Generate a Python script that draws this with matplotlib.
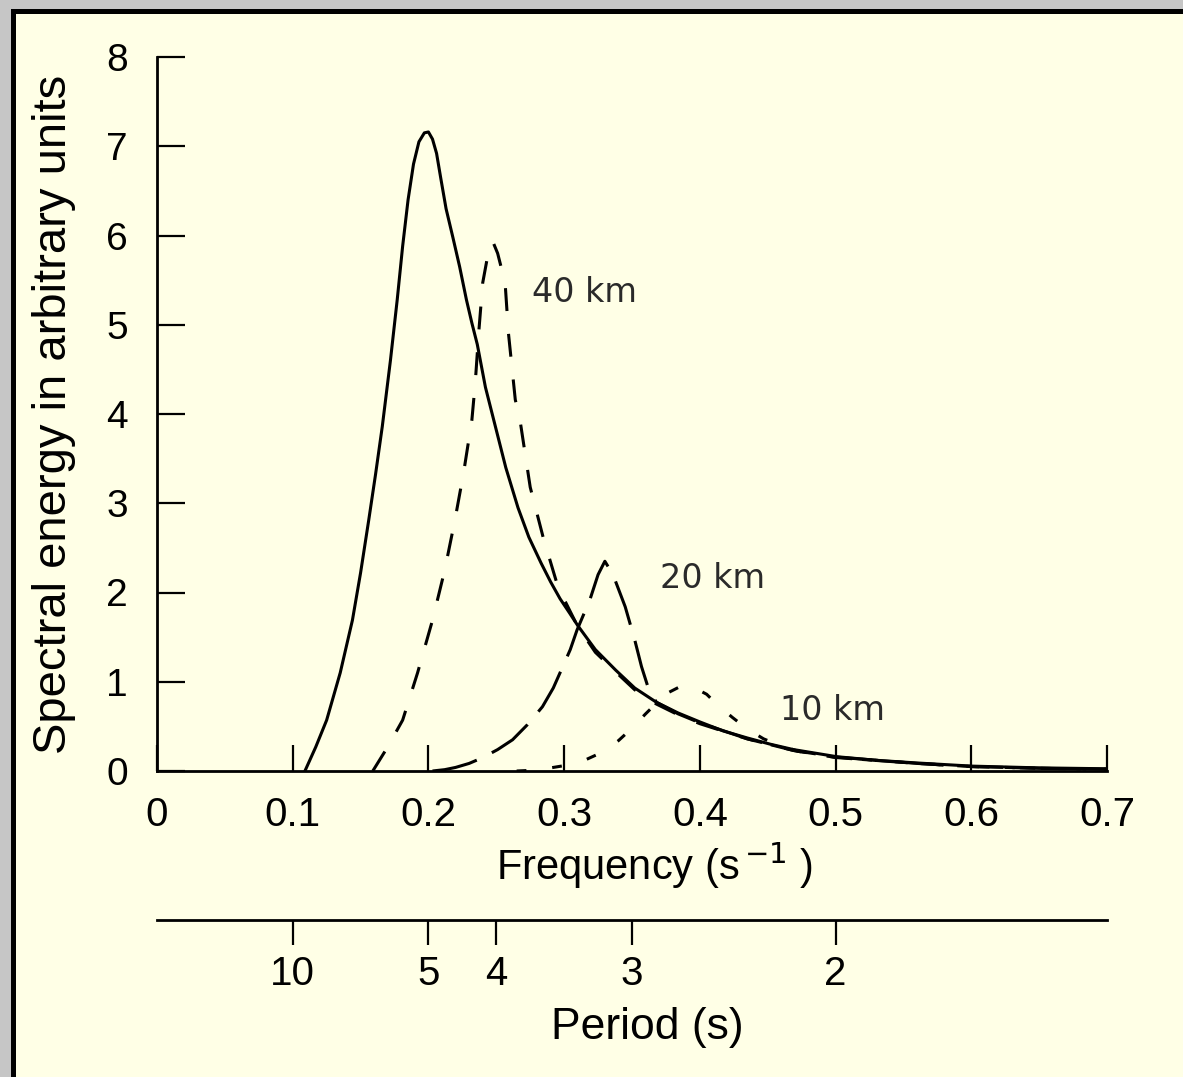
import matplotlib
matplotlib.use('Agg')
import matplotlib.pyplot as plt
from matplotlib.patches import Rectangle

plt.rcParams['font.family'] = ['Liberation Sans', 'DejaVu Sans']
plt.rcParams['mathtext.fontset'] = 'custom'
plt.rcParams['mathtext.rm'] = 'Liberation Sans'
plt.rcParams['mathtext.default'] = 'regular'

# fully developed sea (solid)
f_full = [0.109, 0.117, 0.125, 0.135, 0.144, 0.150, 0.156, 0.161, 0.166, 0.172, 0.177,
          0.181, 0.185, 0.189, 0.193, 0.197, 0.200, 0.203, 0.206, 0.209, 0.213, 0.218,
          0.223, 0.228, 0.232, 0.236, 0.242, 0.249, 0.257, 0.266, 0.274, 0.283, 0.290,
          0.297, 0.304, 0.310, 0.323, 0.338, 0.352, 0.368, 0.384, 0.400, 0.417, 0.435,
          0.452, 0.469, 0.485, 0.501, 0.53, 0.56, 0.60, 0.65, 0.70]
e_full = [0.0, 0.27, 0.57, 1.10, 1.69, 2.22, 2.81, 3.32, 3.86, 4.60, 5.28,
          5.88, 6.40, 6.80, 7.05, 7.15, 7.16, 7.08, 6.92, 6.65, 6.30, 5.98,
          5.65, 5.28, 5.02, 4.78, 4.30, 3.88, 3.40, 2.95, 2.62, 2.33, 2.12,
          1.93, 1.77, 1.63, 1.36, 1.13, 0.93, 0.77, 0.65, 0.55, 0.45, 0.37,
          0.30, 0.24, 0.20, 0.16, 0.12, 0.09, 0.055, 0.035, 0.025]

# 40 km fetch
f_40 = [0.159, 0.170, 0.181, 0.192, 0.203, 0.212, 0.2195, 0.226, 0.232, 0.2345, 0.237,
        0.240, 0.244, 0.2475, 0.251, 0.2565, 0.259, 0.264, 0.2675, 0.275, 0.2845, 0.2955,
        0.310, 0.323, 0.338, 0.352, 0.368, 0.384, 0.400, 0.435, 0.469, 0.501, 0.56,
        0.60, 0.65, 0.70]
e_40 = [0.0, 0.27, 0.57, 1.10, 1.69, 2.25, 2.81, 3.35, 3.93, 4.35, 4.90,
        5.47, 5.80, 5.93, 5.80, 5.47, 4.90, 4.16, 3.93, 3.18, 2.62, 2.06,
        1.62, 1.33, 1.11, 0.91, 0.75, 0.63, 0.53, 0.36, 0.23, 0.15, 0.085,
        0.05, 0.03, 0.02]

# 20 km fetch
f_20 = [0.203, 0.212, 0.220, 0.230, 0.240, 0.251, 0.262, 0.273, 0.284, 0.292, 0.299,
        0.3045, 0.3095, 0.319, 0.325, 0.330, 0.336, 0.345, 0.352, 0.357, 0.362, 0.368,
        0.384, 0.400, 0.435, 0.469, 0.501, 0.56, 0.60, 0.65, 0.70]
e_20 = [0.0, 0.015, 0.04, 0.085, 0.15, 0.24, 0.35, 0.52, 0.72, 0.93, 1.17,
        1.36, 1.58, 1.92, 2.20, 2.35, 2.20, 1.84, 1.47, 1.17, 0.93, 0.77,
        0.64, 0.54, 0.36, 0.23, 0.155, 0.085, 0.05, 0.03, 0.02]

# 10 km fetch
f_10 = [0.265, 0.28, 0.30, 0.315, 0.328, 0.340, 0.350, 0.360, 0.368, 0.377, 0.386,
        0.395, 0.405, 0.413, 0.424, 0.435, 0.447, 0.46, 0.475, 0.501, 0.56, 0.60,
        0.65, 0.70]
e_10 = [0.0, 0.01, 0.06, 0.12, 0.21, 0.34, 0.48, 0.64, 0.76, 0.88, 0.95,
        0.94, 0.86, 0.74, 0.60, 0.47, 0.36, 0.28, 0.21, 0.15, 0.085, 0.05,
        0.03, 0.02]

freq_ticks = [0, 0.1, 0.2, 0.3, 0.4, 0.5, 0.6, 0.7]
freq_labels = ['0', '0.1', '0.2', '0.3', '0.4', '0.5', '0.6', '0.7']
energy_ticks = [0, 1, 2, 3, 4, 5, 6, 7, 8]
period_pos = [0.1, 0.2, 0.25, 0.35, 0.5]
period_labels = ['10', '5', '4', '3', '2']

W, H = 1183, 1077
fig = plt.figure(figsize=(W / 100, H / 100), dpi=100)
fig.patch.set_facecolor('#c6c6c6')
frame = Rectangle((12.5 / W, -0.05), 1.2, (H - 10.5) / H + 0.05, transform=fig.transFigure,
                  facecolor='#FFFFE6', edgecolor='black', linewidth=3.6, zorder=-5)
fig.patches.append(frame)

ax = fig.add_axes([157 / W, 1 - 771 / H, 950 / W, 714 / H])
ax.set_facecolor('none')
lw = 2.2
ax.plot(f_full, e_full, color='black', lw=lw)
ax.plot(f_40, e_40, color='black', lw=lw, dashes=(7.5, 7.5))
ax.plot(f_20, e_20, color='black', lw=lw, dashes=(15, 5.5))
ax.plot(f_10, e_10, color='black', lw=lw, dashes=(3.2, 8.5))

ax.set_xlim(0, 0.7)
ax.set_ylim(0, 8)
for s in ['top', 'right']:
    ax.spines[s].set_visible(False)
for s in ['left', 'bottom']:
    ax.spines[s].set_linewidth(2.0)
ax.set_xticks(freq_ticks)
ax.set_xticklabels(freq_labels)
ax.set_yticks(energy_ticks)
ax.tick_params(axis='x', direction='in', length=19, width=1.6, pad=18, labelsize=29)
ax.tick_params(axis='y', direction='in', length=20, width=1.6, pad=21, labelsize=28)

ax.set_ylabel('Spectral energy in arbitrary units', fontsize=34)
ax.yaxis.set_label_coords(-0.085, 0.5)
ax.set_xlabel(r'Frequency (s$^{\,\mathsf{-1}}$ )', fontsize=30)
ax.xaxis.set_label_coords(0.524, -0.097)

ann_font = dict(family='DejaVu Sans', fontsize=24, color='#2a2a2a', ha='center', va='center')
ax.text(0.315, 5.36, '40 km', **ann_font)
ax.text(0.409, 2.16, '20 km', **ann_font)
ax.text(0.498, 0.68, '10 km', **ann_font)

# period axis below
ax2 = fig.add_axes([157 / W, 1 - 920 / H, 950 / W, 0.0001])
ax2.set_facecolor('none')
ax2.set_xlim(0, 0.7)
ax2.set_yticks([])
for s in ['top', 'right', 'left']:
    ax2.spines[s].set_visible(False)
ax2.spines['bottom'].set_linewidth(2.0)
ax2.set_xticks(period_pos)
ax2.set_xticklabels(period_labels)
ax2.tick_params(axis='x', direction='out', length=18, width=1.6, pad=7, labelsize=29)
ax2.set_xlabel('Period (s)', fontsize=32, labelpad=10, x=0.516, ha='center')

fig.savefig('out.png', dpi=100, facecolor=fig.get_facecolor())
